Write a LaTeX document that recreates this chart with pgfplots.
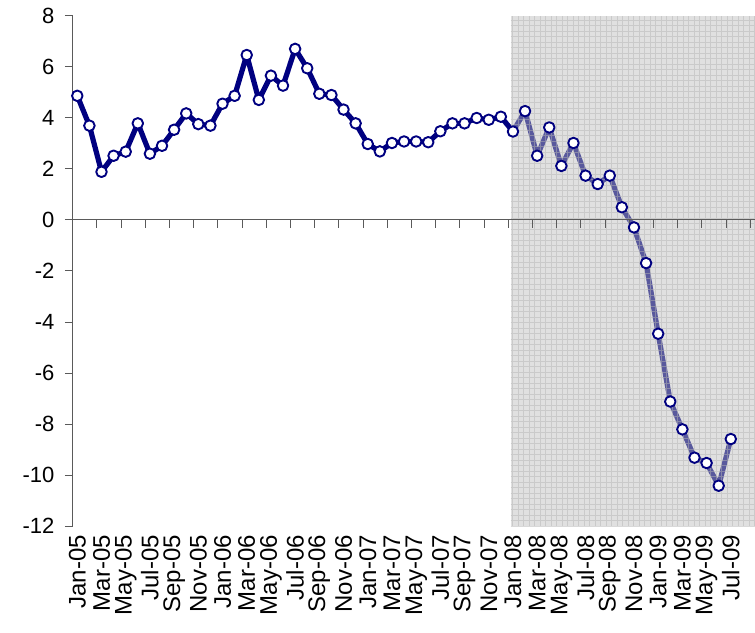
\documentclass[border=0pt]{standalone}
\usepackage{fontspec}
\setmainfont{Liberation Sans}
\usepackage{pgfplots}
\usepackage{pgfplotstable}
\pgfplotsset{compat=1.18}
\definecolor{navyline}{RGB}{0,0,128}
\definecolor{axisgray}{RGB}{90,90,90}
\definecolor{shadefill}{RGB}{190,190,190}
\definecolor{shadegrid}{RGB}{180,180,180}
\pgfplotstableread{
x y
0 4.87
1 3.70
2 1.89
3 2.52
4 2.68
5 3.79
6 2.60
7 2.91
8 3.54
9 4.18
10 3.76
11 3.70
12 4.56
13 4.87
14 6.47
15 4.71
16 5.66
17 5.27
18 6.71
19 5.95
20 4.95
21 4.90
22 4.33
23 3.79
24 2.98
25 2.69
26 3.02
27 3.08
28 3.08
29 3.05
30 3.48
31 3.79
32 3.79
33 4.00
34 3.93
35 4.05
36 3.47
37 4.27
38 2.52
39 3.63
40 2.12
41 3.02
42 1.74
43 1.41
44 1.74
45 0.50
46 -0.29
47 -1.69
48 -4.46
49 -7.12
50 -8.21
51 -9.32
52 -9.53
53 -10.42
54 -8.59
}\datatable
\begin{document}
\begin{tikzpicture}
\begin{axis}[
  at={(0,0)}, anchor=south west,
  scale only axis,
  width=682.3pt, height=510pt,
  xmin=-0.38, xmax=56.0,
  ymin=-12, ymax=8,
  axis y line*=left,
  axis x line*=bottom,
  x axis line style={draw=none},
  y axis line style={draw=axisgray, line width=1pt},
  ytick={-12,-10,...,8},
  xtick={0,2,...,54},
  xticklabels={Jan-05,Mar-05,May-05,Jul-05,Sep-05,Nov-05,Jan-06,Mar-06,May-06,Jul-06,Sep-06,Nov-06,Jan-07,Mar-07,May-07,Jul-07,Sep-07,Nov-07,Jan-08,Mar-08,May-08,Jul-08,Sep-08,Nov-08,Jan-09,Mar-09,May-09,Jul-09},
  tick align=outside,
  major tick length=7.7pt,
  xtick style={draw=none},
  ytick style={draw=axisgray, line width=1pt},
  tick label style={font=\fontsize{22}{26}\selectfont, text=black},
  /pgf/number format/assume math mode=true,
  yticklabel style={anchor=east, xshift=-7pt},
  xticklabel style={font=\fontsize{24}{28}\selectfont, yshift=2pt, rotate=90, anchor=east},
  clip=true,
]
\addplot[color=navyline, line width=5.2pt, line join=round,
  mark=*, mark size=5.3pt,
  mark options={fill=white, draw=navyline, line width=1.9pt}]
  table[x=x, y=y] {\datatable};
% shaded forecast region overlay
\fill[shadefill, opacity=0.47] (axis cs:35.8,-12) rectangle (axis cs:56.0,8);
\draw[shadegrid, line width=0.5pt, opacity=0.5, step=5.5pt] (axis cs:35.8,-12) grid (axis cs:56.0,8);
% zero line with ticks
\draw[axisgray, line width=1pt] (axis cs:-0.38,0) -- (axis cs:56.0,0);
\pgfplotsinvokeforeach{0,...,28}{
  \draw[axisgray, line width=1pt] (axis cs:{-0.38+2*#1},0) -- ([yshift=-8pt]axis cs:{-0.38+2*#1},0);
}
\end{axis}
\pgfresetboundingbox
\path[use as bounding box] (-72.7pt,-106pt) rectangle (682.3pt,526pt);
\end{tikzpicture}
\end{document}
